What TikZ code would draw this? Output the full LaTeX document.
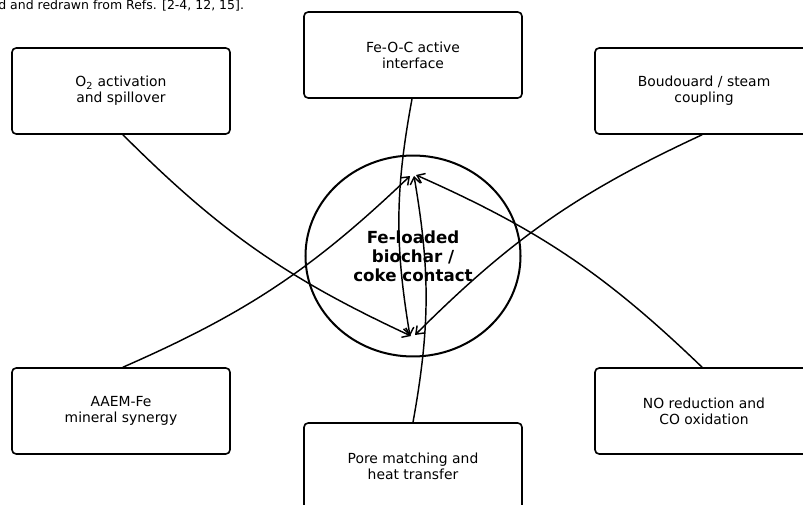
\documentclass[tikz,border=0pt]{standalone}
\usepackage{fontspec}
\setmainfont{DejaVu Sans}
\usetikzlibrary{arrows.meta,shapes.geometric}
\begin{document}
\begin{tikzpicture}[x=0.72pt,y=0.72pt,
  box/.style={draw, line width=1.15pt, rounded corners=3pt, minimum width=156.96pt, minimum height=61.92pt, align=center, font=\fontsize{10}{11.6}\selectfont, inner sep=0pt},
  hub/.style={draw, ellipse, line width=1.45pt, minimum width=154.8pt, minimum height=144.7pt, inner sep=0pt, align=center, font=\fontsize{12}{13.8}\selectfont\bfseries},
  link/.style={line width=1.05pt, -{Straight Barb[length=5pt,width=7.5pt]}, bend right=10},
  note/.style={font=\fontsize{9}{10.8}\selectfont, inner sep=0pt, anchor=base west}]
\useasboundingbox (0,0) rectangle (803,-505);
\node[note] (cap) at (-2,-10) {d and redrawn from Refs. [2-4, 12, 15].};
\node[hub] (hub) at (413,-256) {Fe-loaded\\biochar /\\coke contact};
\node[box] (o2) at (121,-91) {O\textsubscript{2} activation\\and spillover};
\node[box] (feoc) at (413,-55) {Fe-O-C active\\interface};
\node[box] (boud) at (704,-91) {Boudouard / steam\\coupling};
\node[box] (aaem) at (121,-411) {AAEM-Fe\\mineral synergy};
\node[box] (no) at (704,-411) {NO reduction and\\CO oxidation};
\node[box] (pore) at (413,-466) {Pore matching and\\heat transfer};
\coordinate (tA) at (410,-176);
\coordinate (tB) at (414,-176);
\coordinate (tC) at (416,-175);
\coordinate (bA) at (411,-336);
\coordinate (bB) at (410,-336);
\coordinate (bC) at (415,-335);
\draw[link] ([xshift=1.4pt]o2.south) to (bA);
\draw[link] ([xshift=-0.7pt]feoc.south) to (bB);
\draw[link] ([xshift=-1.4pt]boud.south) to (bC);
\draw[link] ([xshift=1.4pt]aaem.north) to (tA);
\draw[link] (pore.north) to (tB);
\draw[link] ([xshift=-1.4pt]no.north) to (tC);
\end{tikzpicture}
\end{document}
